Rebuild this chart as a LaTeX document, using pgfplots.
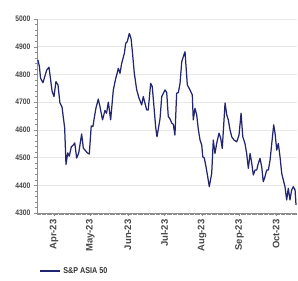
\documentclass[border=0pt]{standalone}
\usepackage{fontspec}
\setmainfont{Liberation Sans}
\newfontfamily\condfont[FakeStretch=0.85]{Liberation Sans}
\usepackage{pgfplots}
\pgfplotsset{compat=1.18}
\definecolor{navy}{RGB}{34,38,112}
\definecolor{axgray}{RGB}{140,140,140}
\begin{document}
\begin{tikzpicture}
\begin{axis}[
  scale only axis, width=260bp, height=194bp,
  xmin=-14, xmax=200.3, ymin=4300, ymax=5000,
  axis x line*=bottom, axis y line*=left,
  axis line style={axgray, line width=0.6pt},
  xtick={0,30,61,91,122,153,183},
  xticklabels={Apr-23,May-23,Jun-23,Jul-23,Aug-23,Sep-23,Oct-23},
  minor xtick={-14,-13,...,200},
  x tick label style={rotate=90, anchor=east, font=\fontsize{9.5}{10}\selectfont\bfseries, text=black!72},
  ytick={4300,4400,...,5000},
  minor y tick num=4,
  y tick label style={font=\condfont\fontsize{8}{9}\selectfont\bfseries, text=black!72},
  /pgf/number format/assume math mode=true,
  /pgf/number format/1000 sep={},
  tick align=outside,
  major tick length=3bp, minor tick length=2bp,
  tick style={axgray, line width=0.4pt},
  ymajorgrids, grid style={gray!18, line width=0.5pt},
  legend style={at={(axis description cs:0.005,-0.30)}, anchor=west, draw=none, fill=none,
     font=\condfont\fontsize{8.5}{9}\selectfont\bfseries, text=black!80, inner sep=1bp},
  legend image code/.code={\draw[#1, line width=1.8pt] (0bp,0bp) -- (20bp,0bp);},
]
\addplot[navy, line width=1.25pt, line join=round] coordinates {
(-13.2,4852) (-12.0,4828) (-11.1,4787) (-9.1,4770) (-6.0,4816) (-4.1,4826)
(-1.6,4740) (0,4720) (1.6,4774) (3.3,4762) (4.9,4697) (6.6,4683) (8.8,4607)
(9.9,4475) (11.3,4517) (12.6,4505) (14.3,4539) (15.9,4545) (17.1,4553)
(18.7,4498) (20.4,4517) (22.8,4585) (24.2,4534) (27.5,4517) (29.1,4513)
(30.7,4614) (32.1,4612) (33.2,4643) (34.6,4679) (36.5,4711) (37.9,4684)
(40.0,4636) (42.0,4670) (43.3,4660) (44.8,4700) (46.7,4636) (48.9,4744)
(50.9,4786) (51.7,4798) (53.0,4822) (54.4,4804) (55.8,4840) (58.0,4876)
(59.1,4912) (60.4,4918) (62.1,4948) (63.5,4930) (64.5,4888) (66.2,4804)
(68.2,4744) (70.1,4714) (72.3,4690) (73.6,4720) (75.0,4696) (76.4,4672)
(77.7,4672) (79.7,4768) (81.0,4756) (82.4,4684) (83.8,4610) (84.9,4575)
(87.4,4640) (88.8,4720) (91.5,4744) (92.9,4735) (94.2,4648) (95.6,4640)
(97.0,4625) (98.3,4620) (99.7,4581) (101.1,4732) (102.5,4735) (103.9,4768)
(105.3,4846) (106.6,4864) (108.0,4882) (109.9,4762) (112.1,4744) (114.0,4726)
(114.8,4636) (116.2,4678) (117.6,4655) (119.0,4600) (120.4,4563) (121.8,4545)
(122.6,4503) (123.9,4498) (125.3,4467) (126.7,4431) (128.0,4395) (130.0,4443)
(131.3,4563) (132.7,4515) (134.1,4551) (136.0,4588) (137.4,4570) (138.7,4533)
(141.0,4697) (142.4,4654) (143.7,4636) (145.1,4600) (146.5,4575) (148.4,4563)
(150.6,4557) (152.5,4581) (154.2,4660) (155.6,4575) (157.4,4551) (158.8,4515)
(160.2,4461) (161.6,4515) (163.0,4479) (164.3,4437) (165.7,4455) (167.1,4455)
(168.4,4479) (169.8,4497) (171.2,4467) (172.5,4413) (173.9,4431) (175.3,4455)
(176.7,4455) (178.1,4491) (179.5,4551) (181.1,4618) (182.2,4588) (183.6,4527)
(184.9,4551) (186.3,4503) (187.7,4443) (189.0,4419) (190.4,4395) (191.8,4347)
(193.1,4389) (194.5,4347) (195.9,4383) (197.3,4395) (198.7,4383) (199.5,4329)
};
\addlegendentry{S\&P ASIA 50}
\end{axis}
\path ([shift={(-37bp,-68bp)}]current axis.south west) rectangle ([shift={(1bp,19bp)}]current axis.north east);
\end{tikzpicture}
\end{document}
